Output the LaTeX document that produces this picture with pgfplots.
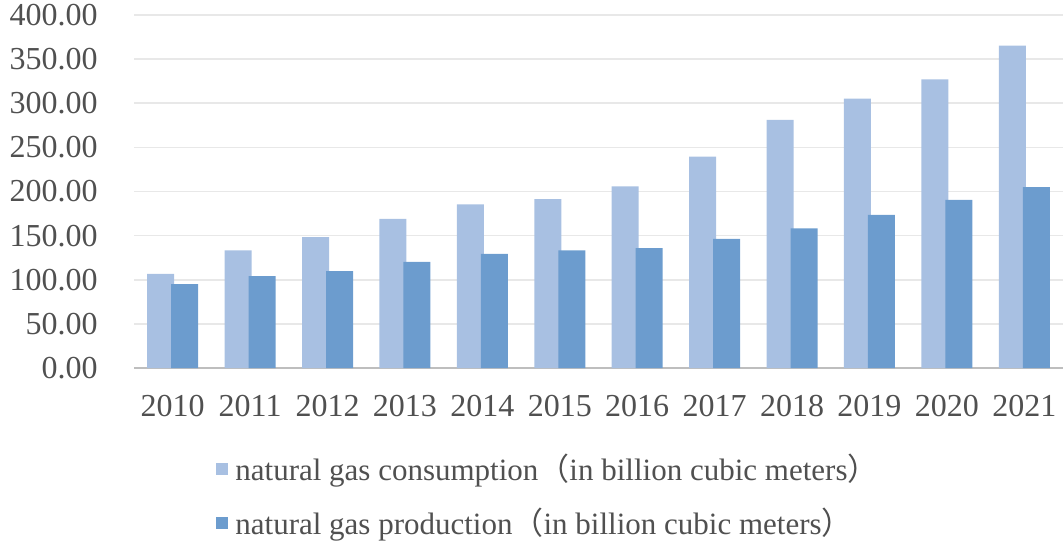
\documentclass[border=0pt]{standalone}
\usepackage{fontspec}
\setmainfont{Liberation Serif}
\newfontfamily\cjk{Noto Sans CJK SC}
\usepackage{pgfplots}
\pgfplotsset{compat=1.18}
\definecolor{cons}{RGB}{168,192,226}
\definecolor{prod}{RGB}{108,156,206}
\definecolor{gridc}{RGB}{232,232,232}
\definecolor{axc}{RGB}{190,190,190}
\definecolor{txt}{RGB}{80,80,80}
\begin{document}
\begin{tikzpicture}
\useasboundingbox (0,0) rectangle (531.5pt,270.5pt);
\begin{axis}[
  at={(67pt,86.5pt)}, anchor=south west,
  scale only axis, width=464.5pt, height=176.5pt,
  xmin=-0.5, xmax=11.5, ymin=0, ymax=400,
  ytick={0,50,...,400},
  xtick={0,...,11},
  xticklabels={2010,2011,2012,2013,2014,2015,2016,2017,2018,2019,2020,2021},
  major tick length=0pt,
  axis x line*=bottom, axis y line*=left,
  x axis line style={draw=axc, line width=1.2pt, -},
  y axis line style={draw=none},
  ymajorgrids, grid style={draw=gridc, line width=0.8pt},
  /pgf/number format/.cd, fixed, fixed zerofill, precision=2, assume math mode=true,
  /pgfplots/.cd,
  yticklabel style={font=\fontsize{16}{19}\selectfont, text=txt, anchor=east, inner sep=0pt, xshift=-18pt},
  xticklabel style={font=\fontsize{16}{19}\selectfont, text=txt, anchor=north, inner sep=0pt, yshift=-13.5pt},
  ybar, bar width=13.5pt,
  legend image code/.code={\fill[#1] (0pt,-3pt) rectangle (6pt,3pt);},
  legend style={draw=none, fill=none, at={(axis description cs:0.0818,-0.2323)}, anchor=north west,
    font=\fontsize{15.5}{18}\selectfont, text=txt, row sep=12pt, column sep=3.5pt,
    nodes={inner sep=0pt}},
  legend cell align=left,
]
\addplot[fill=cons, draw=none, bar shift=-6pt] coordinates {
(0,106.8) (1,133.2) (2,148.3) (3,169.1) (4,185.3) (5,191.3) (6,205.7) (7,239.6) (8,281.1) (9,305.3) (10,327.2) (11,365.3)};
\addlegendentry{natural gas consumption{\cjk（}in billion cubic meters{\cjk）}}
\addplot[fill=prod, draw=none, bar shift=6pt] coordinates {
(0,95.1) (1,104.2) (2,109.8) (3,120.4) (4,129.4) (5,133.2) (6,135.8) (7,146.4) (8,158.1) (9,173.6) (10,190.6) (11,204.9)};
\addlegendentry{natural gas production{\cjk（}in billion cubic meters{\cjk）}}
\end{axis}
\end{tikzpicture}
\end{document}
